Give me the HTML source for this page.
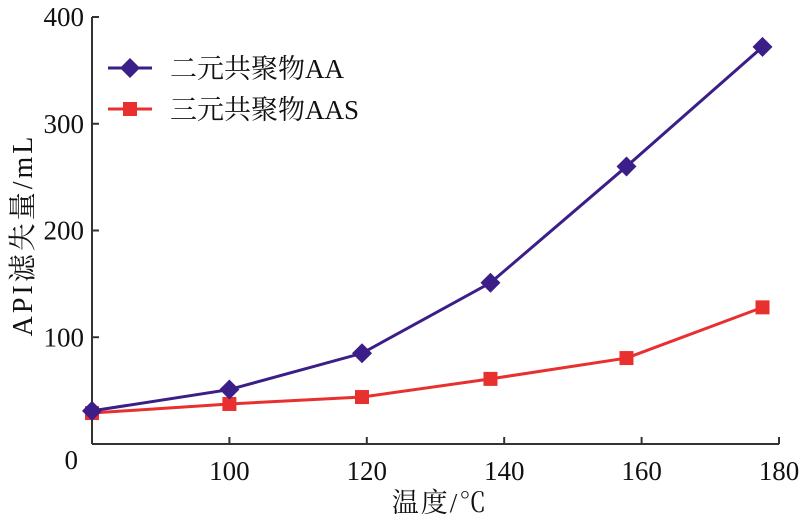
<!DOCTYPE html>
<html><head><meta charset="utf-8"><style>
body{margin:0;background:#fff}
text{font-family:"Liberation Serif","Noto Serif CJK SC",serif;fill:#111}
</style></head><body>
<svg id="chart" width="800" height="524" xmlns="http://www.w3.org/2000/svg">
<g id="axes"></g>
<g id="marks"></g>
<g>
 <g>
  <line x1="108" y1="68" x2="152" y2="68" stroke="#3b1e87" stroke-width="3"/>
  <path d="M130 58 L140 68 L130 78 L120 68Z" fill="#3b1e87"/>
  <text x="170" y="78" font-size="27">二元共聚物AA</text>
 </g>
 <g>
  <line x1="108" y1="109" x2="152" y2="109" stroke="#e8302f" stroke-width="3"/>
  <rect x="123" y="102" width="14" height="14" fill="#e8302f"/>
  <text x="170" y="119" font-size="27">三元共聚物AAS</text>
 </g>
</g>
<text x="440" y="512" font-size="27" text-anchor="middle" letter-spacing="2">温度/℃</text>
<text transform="translate(32,235) rotate(-90)" font-size="28" text-anchor="middle" letter-spacing="3">API滤失量/mL</text>
</svg>
<script>
const temps=[80,100,119.3,138,157.8,177.6];
const aaValues=[31,51,85,151,260,372];
const aasValues=[29,37.5,44,61,80.5,128];
const xTicks=[100,120,140,160,180];
const yTicks=[0,100,200,300,400];
const NS="http://www.w3.org/2000/svg";
const X0=92,X1=779,Y0=444,Y1=17;
const xs=v=>X0+(v-80)/(180-80)*(X1-X0);
const ys=v=>Y0-(v/400)*(Y0-Y1);
function mk(t,a,p){const e=document.createElementNS(NS,t);for(const k in a)e.setAttribute(k,a[k]);p.appendChild(e);return e;}
const ax=document.getElementById('axes'),mr=document.getElementById('marks');
let e=mk('line',{x1:X0,y1:Y0,x2:X1,y2:Y0,stroke:'#333','stroke-width':2},ax);


e=mk('line',{x1:X0,y1:Y0,x2:X0,y2:Y1,stroke:'#333','stroke-width':2},ax);


xTicks.forEach(v=>{
 mk('line',{x1:xs(v),y1:Y0,x2:xs(v),y2:Y0-7,stroke:'#333','stroke-width':2},ax);
 const t=mk('text',{x:xs(v),y:Y0+36,'font-size':27,'text-anchor':'middle'},ax);t.textContent=v;
 
 
});
yTicks.forEach(v=>{
 if(v>0)mk('line',{x1:X0,y1:ys(v),x2:X0+7,y2:ys(v),stroke:'#333','stroke-width':2},ax);
 const t=mk('text',{x:v===0?78:X0-8,y:v===0?ys(v)+25:ys(v)+9,'font-size':27,'text-anchor':'end'},ax);t.textContent=v;
 
 
});
function series(vals,color,shape,name){
 const l=mk('polyline',{points:vals.map((v,i)=>xs(temps[i])+','+ys(v)).join(' '),fill:'none',stroke:color,'stroke-width':3},mr);
 
 
 vals.forEach((v,i)=>{
  const x=xs(temps[i]),y=ys(v);let m;
  if(shape==='d')m=mk('path',{d:`M${x} ${y-10}L${x+10} ${y}L${x} ${y+10}L${x-10} ${y}Z`,fill:color},mr);
  else m=mk('rect',{x:x-7,y:y-7,width:14,height:14,fill:color},mr);
  
  
 });
}
series(aasValues,'#e8302f','s','aas');
series(aaValues,'#3b1e87','d','aa');
</script>
</body></html>
